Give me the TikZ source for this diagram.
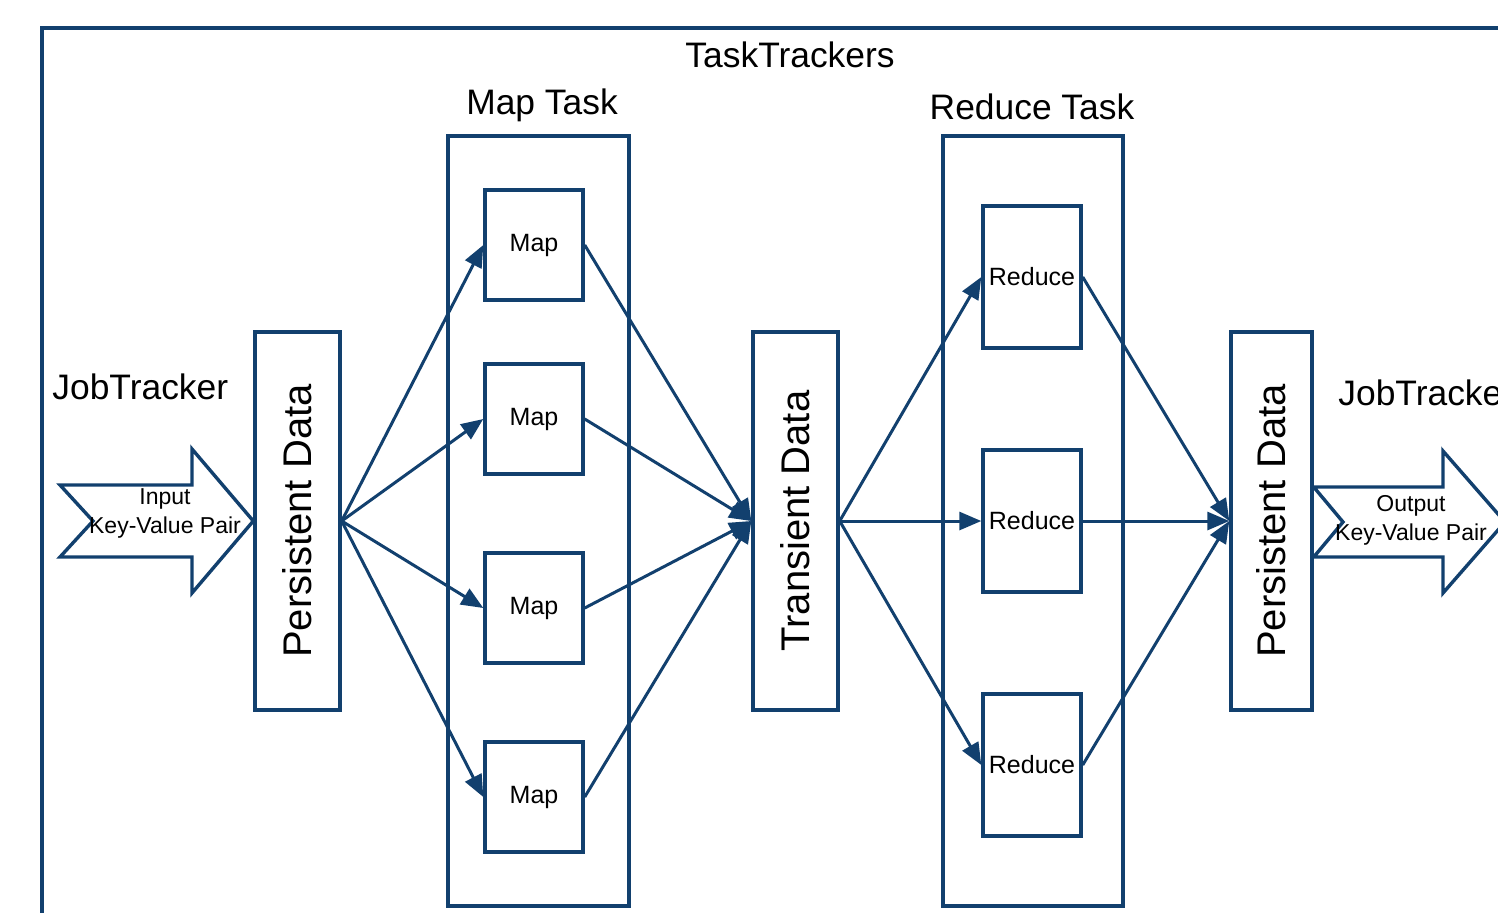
\documentclass[tikz,border=0pt]{standalone}
\usepackage{fontspec}
\setmainfont{Liberation Sans}
\usetikzlibrary{arrows.meta}
\definecolor{hdblue}{RGB}{18,64,110}

\begin{document}
\begin{tikzpicture}[x=0.5pt,y=-0.5pt,
    box/.style={draw=hdblue,line width=1.7pt,inner sep=0pt,fill=white},
    store/.style={box,minimum width=42.5pt,minimum height=189pt},
    task/.style={draw=hdblue,line width=1.7pt,inner sep=0pt,minimum width=90.5pt,minimum height=385pt},
    flow/.style={draw=hdblue,line width=1.5pt,-{Triangle[length=11pt,width=9pt]}},
    fat/.style={draw=hdblue,line width=1.7pt,line join=miter,fill=white},
    title/.style={inner sep=0pt,font=\fontsize{17.7}{20}\selectfont},
    vtext/.style={inner sep=0pt,rotate=90,font=\fontsize{20}{22}\selectfont},
    small/.style={inner sep=0pt,font=\fontsize{12.5}{15}\selectfont},
    kv/.style={inner sep=0pt,align=center,font=\fontsize{11.5}{14.5}\selectfont}]
    \useasboundingbox (0,0) rectangle (1498,912);
    \clip (0,0) rectangle (1498,912);
    % outer frame, runs off the page to the right and bottom
    \draw[draw=hdblue,line width=2.2pt] (42,960) |- (1560,28);
    \node[title] (tt) at (790,55) {TaskTrackers};
    \node[title] (mtt) at (542,105) {Map Task};
    \node[title] (rtt) at (1032,107) {Reduce Task};
    \node[title,anchor=west] (jtL) at (52,387) {JobTracker};
    \node[title,anchor=west] (jtR) at (1338,393) {JobTracker};
    % task trackers
    \node[task] (mtask) at (538.5,521) {};
    \node[task,minimum width=90pt] (rtask) at (1033,521) {};
    % data stores
    \node[store] (pdL) at (297.5,521) {};
    \node[store] (td) at (795.5,521) {};
    \node[store,minimum width=40.5pt] (pdR) at (1271.5,521) {};
    \node[vtext] (pdLt) at (pdL) {Persistent Data};
    \node[vtext] (tdt) at (td) {Transient Data};
    \node[vtext] (pdRt) at (pdR) {Persistent Data};
    % map and reduce boxes
    \foreach \i/\y in {1/245,2/419,3/608,4/797}
        \node[box,small,minimum width=49pt,minimum height=55pt] (m\i) at (534,\y) {Map};
    \foreach \i/\y in {1/277,2/521,3/765}
        \node[box,small,minimum width=49pt,minimum height=71pt] (r\i) at (1032,\y) {Reduce};
    % connections
    \foreach \i in {1,...,4} {
        \draw[flow] (pdL.east) -- (m\i.west);
        \draw[flow] (m\i.east) -- (td.west);
    }
    \foreach \i in {1,2,3} {
        \draw[flow] (td.east) -- (r\i.west);
        \draw[flow] (r\i.east) -- (pdR.west);
    }
    % input and output arrows
    \draw[fat] (60,485) -- (192,485) -- (192,449) -- (pdL.west) -- (192,593)
        -- (192,557) -- (60,557) -- (93,521) -- cycle;
    \draw[fat] (pdR.east |- 0,487) -- (1443,487) -- (1443,451) -- (1505,522)
        -- (1443,593) -- (1443,557) -- (pdR.east |- 0,557) -- (1343,522) -- cycle;
    \node[kv] (inp) at (165,513) {Input\\Key-Value Pair};
    \node[kv] (outp) at (1411,520) {Output\\Key-Value Pair};
\end{tikzpicture}
\end{document}
